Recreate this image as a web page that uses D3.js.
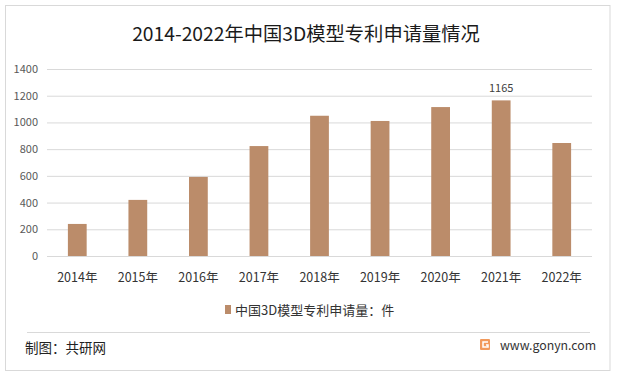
<!DOCTYPE html>
<html><head><meta charset="utf-8">
<script src="https://cdn.jsdelivr.net/npm/d3@7/dist/d3.min.js"></script>
<style>body{margin:0;background:#fff}svg{display:block}text{font-family:"Noto Sans CJK SC","Noto Sans",sans-serif}</style>
</head><body>
<script>
const categories = ["2014年","2015年","2016年","2017年","2018年","2019年","2020年","2021年","2022年"];
const values = [240, 420, 592, 823, 1050, 1011, 1115, 1165, 846];
const yTicks = [0,200,400,600,800,1000,1200,1400];
const labeledIndex = [7];
const seriesName = "中国3D模型专利申请量：件";
const title = "2014-2022年中国3D模型专利申请量情况";

const W = 618, H = 372;
const svg = d3.select("body").append("svg").attr("width", W).attr("height", H);
svg.append("rect").attr("x",5.5).attr("y",5.5).attr("width",604.5).attr("height",365)
  .attr("fill","#fff").attr("stroke","#d9d9d9");

svg.append("text").attr("x",306).attr("y",41).attr("text-anchor","middle")
  .attr("font-size",19.3).attr("fill","#1a1a1a").text(title);

const x = d3.scaleBand().domain(categories).range([47,592]).paddingInner(0.69).paddingOuter(0.345);
const y = d3.scaleLinear().domain([0,1400]).range([256,69]);

const yAxis = d3.axisLeft(y).tickValues(yTicks).tickFormat(d3.format("d")).tickSize(-(592-47)).tickPadding(9);
const gy = svg.append("g").attr("transform","translate(47,0)").call(yAxis);
gy.select(".domain").remove();
gy.selectAll(".tick line").attr("stroke","#d9d9d9");
gy.selectAll(".tick text").attr("fill","#595959").attr("font-size",11).attr("font-family","'Liberation Sans',Arial,sans-serif");

svg.append("g").selectAll("rect").data(values).join("rect")
  .attr("x",(d,i)=>x(categories[i])).attr("width",x.bandwidth())
  .attr("y",d=>y(d)).attr("height",d=>y(0)-y(d)).attr("fill","#bb8c6a");

svg.append("g").selectAll("text").data(labeledIndex).join("text")
  .attr("x",i=>x(categories[i])+x.bandwidth()/2).attr("y",i=>y(values[i])-8)
  .attr("text-anchor","middle").attr("font-size",11).attr("fill","#404040")
  .attr("font-family","'Liberation Sans',Arial,sans-serif").text(i=>values[i]);

const xAxis = d3.axisBottom(x).tickSize(0).tickPadding(0);
const gx = svg.append("g").attr("transform","translate(0,256)").call(xAxis);
gx.select(".domain").remove();
gx.selectAll(".tick text").attr("fill","#333").attr("font-size",12.5).attr("dy","1.1em").attr("y",12);

// legend
svg.append("rect").attr("x",225).attr("y",305).attr("width",6).attr("height",9).attr("fill","#bb8c6a");
svg.append("text").attr("x",235).attr("y",315).attr("font-size",13).attr("fill","#333").text(seriesName);

// footer
svg.append("line").attr("x1",27).attr("x2",590).attr("y1",332.5).attr("y2",332.5).attr("stroke","#d9d9d9");
svg.append("text").attr("x",25).attr("y",353).attr("font-size",13.5).attr("fill","#222").text("制图：共研网");
const lg = svg.append("g").attr("transform","translate(480,339)");
lg.append("rect").attr("width",10).attr("height",11).attr("rx",1).attr("fill","#f29a5c");
lg.append("path").attr("d","M8,3 H3 V8 H8 V6 H6").attr("fill","none").attr("stroke","#fff").attr("stroke-width",1.5);
svg.append("text").attr("x",500).attr("y",350).attr("font-size",12.3).attr("fill","#333")
  .attr("font-family","'Liberation Sans',Arial,sans-serif").text("www.gonyn.com");
</script>
</body></html>
